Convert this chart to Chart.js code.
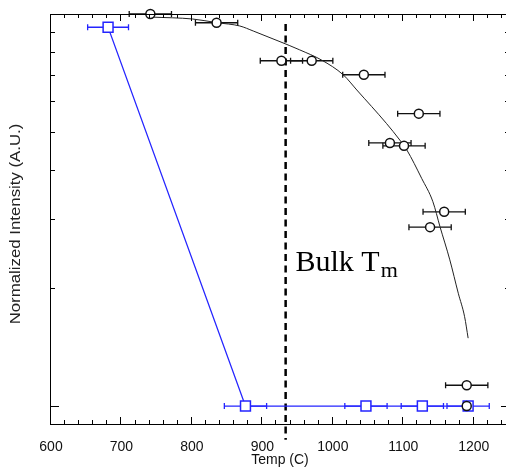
<!DOCTYPE html>
<html>
<head>
<meta charset="utf-8">
<script src="https://cdn.jsdelivr.net/npm/chart.js@4.4.1/dist/chart.umd.min.js"></script>
<style>
  html, body { margin: 0; padding: 0; background: #fff; overflow: hidden; }
  #wrap { width: 512px; height: 471px; }
</style>
</head>
<body>
<div id="wrap"><canvas id="chart" width="512" height="471"></canvas></div>
<script>
const xTicks = [600, 700, 800, 900, 1000, 1100, 1200];
const yTicks = [0.1, 0.2, 0.3, 0.4, 0.5, 0.6, 0.7, 0.8, 0.9];

// black circles
const solidTemp = [741, 835, 927, 970, 1044, 1122, 1081, 1101, 1158, 1138, 1190, 1190];
const solidInt  = [1.0, 0.95, 0.76, 0.76, 0.70, 0.557, 0.469, 0.461, 0.313, 0.286, 0.113, 0.1];
const solidErr  = [30, 30, 30, 30, 30, 30, 30, 30, 30, 30, 30, 0];

// blue squares
const blueTemp = [681, 876, 1047, 1127, 1192];
const blueInt  = [0.925, 0.1, 0.1, 0.1, 0.1];
const blueErr  = [29, 30, 30, 30, 30];

// fitted curve
const fitTemp = [743, 801, 836, 868, 887, 925, 953, 984, 1015, 1034, 1076, 1095, 1105, 1126, 1142, 1152, 1166, 1178, 1187, 1192];
const fitInt  = [0.982, 0.971, 0.950, 0.932, 0.905, 0.850, 0.810, 0.763, 0.699, 0.640, 0.526, 0.477, 0.450, 0.381, 0.332, 0.287, 0.236, 0.194, 0.169, 0.149];

const bulkTm = 933;
const tmLineInt = [0.943, 0.082];
const tmLabel = { temp: 947, int: 0.221 };

const blue = '#2424ff';
const pts = (xs, ys) => xs.map((v, i) => ({ x: v, y: ys[i] }));

const extras = {
    id: 'extras',
    beforeDatasetsDraw(chart) {
        const { ctx, scales: { x, y } } = chart;
        const bars = (xs, ys, errs, color) => {
            ctx.strokeStyle = color;
            ctx.lineWidth = 1.3;
            xs.forEach((v, i) => {
                if (!errs[i]) return;
                const x1 = x.getPixelForValue(v - errs[i]);
                const x2 = x.getPixelForValue(v + errs[i]);
                const py = y.getPixelForValue(ys[i]);
                ctx.beginPath();
                ctx.moveTo(x1, py); ctx.lineTo(x2, py);
                ctx.moveTo(x1, py - 3); ctx.lineTo(x1, py + 3);
                ctx.moveTo(x2, py - 3); ctx.lineTo(x2, py + 3);
                ctx.stroke();
            });
        };
        ctx.save();
        bars(solidTemp, solidInt, solidErr, '#111');
        bars(blueTemp, blueInt, blueErr, blue);
        ctx.restore();
    },
    afterDraw(chart) {
        const { ctx, chartArea: a, scales: { x, y } } = chart;
        ctx.save();
        ctx.strokeStyle = '#000';
        ctx.lineWidth = 1;
        ctx.strokeRect(a.left - 0.5, a.top + 0.5, a.right - a.left, a.bottom - a.top);

        ctx.beginPath();
        for (let v = 600; v <= 1250; v += 20) {
            const px = Math.round(x.getPixelForValue(v)) - 0.5;
            const len = v % 100 === 0 ? 7 : 4;
            ctx.moveTo(px, a.bottom); ctx.lineTo(px, a.bottom - len);
            ctx.moveTo(px, a.top); ctx.lineTo(px, a.top + len);
        }
        yTicks.forEach(v => {
            const py = Math.round(y.getPixelForValue(v)) + 0.5;
            const len = v === 0.1 ? 8 : 4;
            ctx.moveTo(a.left, py); ctx.lineTo(a.left + len, py);
            ctx.moveTo(a.right, py); ctx.lineTo(a.right - len, py);
        });
        ctx.stroke();

        // Bulk Tm label
        const lx = x.getPixelForValue(tmLabel.temp);
        const ly = y.getPixelForValue(tmLabel.int);
        ctx.fillStyle = '#000';
        ctx.textBaseline = 'alphabetic';
        ctx.font = '30px "Liberation Serif"';
        ctx.fillText('Bulk T', lx, ly);
        const w = ctx.measureText('Bulk T').width;
        ctx.font = '22px "Liberation Serif"';
        ctx.fillText('m', lx + w + 1, ly + 5.5);

        // y axis title
        ctx.translate(a.left - 35, (a.top + a.bottom) / 2 + 5);
        ctx.rotate(-Math.PI / 2);
        ctx.scale(1.2, 1);
        ctx.font = '14px "Liberation Sans"';
        ctx.fillStyle = '#222';
        ctx.textAlign = 'center';
        ctx.textBaseline = 'middle';
        ctx.fillText('Normalized Intensity (A.U.)', 0, 0);
        ctx.restore();
    }
};

new Chart(document.getElementById('chart'), {
    type: 'line',
    data: {
        datasets: [
            {
                data: pts(fitTemp, fitInt),
                borderColor: '#222',
                borderWidth: 1,
                pointRadius: 0,
                cubicInterpolationMode: 'monotone',
                order: 5
            },
            {
                data: pts([bulkTm, bulkTm], tmLineInt),
                borderColor: '#000',
                borderWidth: 2.5,
                borderDash: [7, 4.5],
                pointRadius: 0,
                clip: false,
                order: 4
            },
            {
                data: pts(blueTemp, blueInt),
                borderColor: blue,
                borderWidth: 1.2,
                pointStyle: 'rect',
                pointRadius: 7,
                pointBorderWidth: 1.5,
                pointBorderColor: blue,
                pointBackgroundColor: '#fff',
                clip: false,
                order: 3
            },
            {
                data: pts(solidTemp, solidInt),
                showLine: false,
                pointStyle: 'circle',
                pointRadius: 4.5,
                pointBorderWidth: 1.5,
                pointBorderColor: '#111',
                pointBackgroundColor: '#fff',
                clip: false,
                order: 1
            }
        ]
    },
    options: {
        responsive: false,
        animation: false,
        devicePixelRatio: 1,
        layout: { autoPadding: false, padding: { left: 0, top: 14, right: 3, bottom: 0 } },
        plugins: { legend: { display: false }, tooltip: { enabled: false } },
        scales: {
            x: {
                type: 'linear',
                min: 600,
                max: 1250,
                grid: { display: false, drawTicks: false },
                border: { display: false },
                afterBuildTicks: s => { s.ticks = xTicks.map(v => ({ value: v })); },
                afterFit: s => { s.height = 47; },
                ticks: {
                    padding: 15,
                    maxRotation: 0,
                    color: '#111',
                    font: { size: 14, family: 'Liberation Sans' },
                    callback: v => String(v)
                },
                title: {
                    display: true,
                    text: 'Temp (C)',
                    color: '#111',
                    font: { size: 14, family: 'Liberation Sans' },
                    padding: { top: 0, bottom: 2 }
                }
            },
            y: {
                type: 'logarithmic',
                min: 0.09,
                max: 1,
                grid: { display: false, drawTicks: false },
                border: { display: false },
                ticks: { display: false },
                afterFit: s => { s.width = 51; }
            }
        }
    },
    plugins: [extras]
});
</script>
</body>
</html>
